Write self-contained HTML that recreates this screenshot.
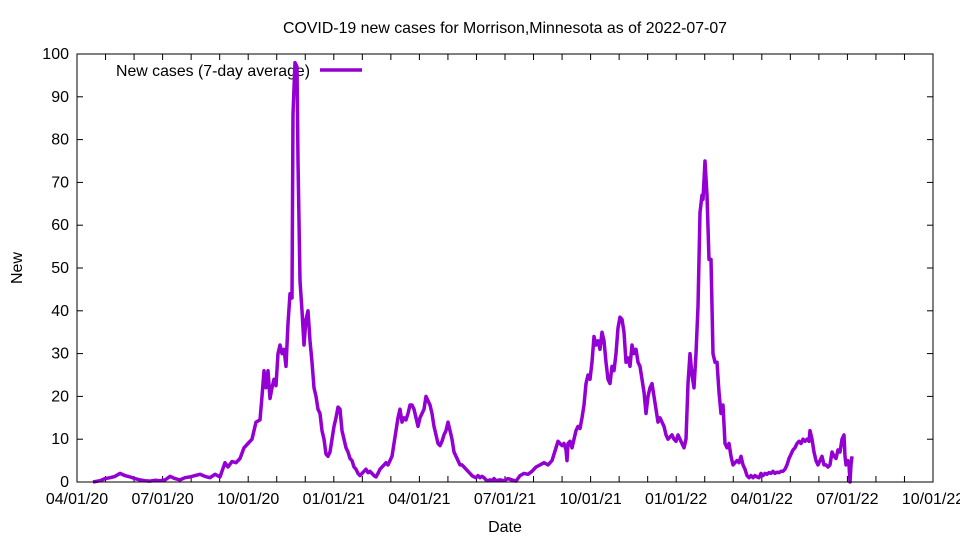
<!DOCTYPE html>
<html><head><meta charset="utf-8"><style>body{margin:0;background:#fff}svg{display:block;font-family:"Liberation Sans",sans-serif}</style></head>
<body><svg id="s" width="960" height="540" xmlns="http://www.w3.org/2000/svg">
<rect width="960" height="540" fill="#fff"/>
<text x="505" y="33" font-size="16" text-anchor="middle" textLength="444" lengthAdjust="spacingAndGlyphs">COVID-19 new cases for Morrison,Minnesota as of 2022-07-07</text>
<text x="505" y="532" font-size="16" text-anchor="middle">Date</text>
<text x="22" y="268" font-size="16" text-anchor="middle" transform="rotate(-90 22 268)">New</text>
<g id="ax" stroke="#000" stroke-width="1" fill="none"></g>
<g id="lb" font-size="16" fill="#000"></g>
<text x="116" y="76" font-size="16" textLength="194" lengthAdjust="spacingAndGlyphs">New cases (7-day average)</text>
<line x1="320" y1="70" x2="362" y2="70" stroke="#9400d3" stroke-width="3.5"/>
<polyline id="p" fill="none" stroke="#9400d3" stroke-width="3.5" stroke-linejoin="round"/>
<rect x="77" y="54" width="856" height="428" fill="none" stroke="#000"/>
</svg>
<script>
var L=77,R=933,T=54,B=482,ns="http://www.w3.org/2000/svg";
var ax=document.getElementById('ax'),lb=document.getElementById('lb');
function ln(a,b,c,d){var e=document.createElementNS(ns,'line');e.setAttribute('x1',a);e.setAttribute('y1',b);e.setAttribute('x2',c);e.setAttribute('y2',d);ax.appendChild(e);}
function tx(x,y,t,a){var e=document.createElementNS(ns,'text');e.setAttribute('x',x);e.setAttribute('y',y);e.setAttribute('text-anchor',a);e.textContent=t;lb.appendChild(e);}
for(var v=0;v<=100;v+=10){var y=B-v*4.28;ln(L,y,L+6,y);ln(R,y,R-6,y);tx(69,y+5,v,'end');}
var labs=['04/01/20','07/01/20','10/01/20','01/01/21','04/01/21','07/01/21','10/01/21','01/01/22','04/01/22','07/01/22','10/01/22'];
for(var m=0;m<=30;m++){var x=L+m*(R-L)/30;ln(x,B,x,B-6);ln(x,T,x,T+6);if(m%3==0)tx(x,504,labs[m/3],'middle');}
var d=[93,0,100,.3,105,.8,110,1,115,1.3,120,2,125,1.5,130,1.2,135,.8,140,.5,145,.3,150,.2,155,.4,160,.3,165,.5,170,1.3,175,.8,180,.5,185,1,190,1.2,195,1.5,200,1.8,205,1.3,210,1,215,1.8,220,1.2,225,4.5,228,3.5,232,4.8,236,4.5,240,5.5,244,8,248,9,252,10,256,14,260,14.5,262,20,264,26,266,22,268,26,270,19.5,272,22,274,24,276,22.5,278,30,280,32,282,30,284,31,286,27,288,37,290,44,292,43,293,86,295,98,297,97,298,75,300,47,302,40,304,32,306,38,308,40,310,33,312,28,314,22,316,20,318,17,320,16,322,12,324,10,326,6.5,328,6,330,7,332,10,334,13,336,15,338,17.5,340,17,342,12,344,10,346,8,348,7,350,5.5,352,5,354,3.5,356,3,358,2,360,1.5,362,2,364,2.5,366,3,368,2.2,370,2.5,372,2,374,1.5,376,1.2,378,2,380,3,382,3.5,384,4,386,4.5,388,4,390,5,392,6,394,9,396,12,398,15,400,17,402,14,404,15,406,14.5,408,16,410,18,412,18,414,17,416,15,418,13,420,15,422,16,424,17,426,20,428,19,430,18,432,16,434,13,436,11,438,9,440,8.5,442,9.5,444,11,446,12,448,14,450,12,452,10,454,7,456,6,458,5,460,4,462,4,464,3.5,466,3,468,2.5,470,2,472,1.5,474,1.2,476,1,478,1.5,480,1,482,1.3,484,1,486,.5,488,.3,490,.5,492,.3,494,.8,496,.3,500,.5,504,.3,508,.8,512,.5,516,.2,520,1.5,524,2,528,1.8,532,2.5,536,3.5,540,4,544,4.5,548,4,552,5,556,8,558,9.5,560,9,562,8.5,564,9,566,7.5,567,5,568,9,570,9.5,572,8,574,10,576,12,578,13,580,12.5,582,15,584,18,586,23,588,25,590,24,592,28,594,34,596,32,598,33,600,31,602,35,604,33,606,28,608,24,610,23,612,27,614,26,616,30,618,36,620,38.5,622,38,624,35,626,28,628,29,630,27,632,32,634,30,636,31,638,28,640,27,642,24,644,21,646,16,648,20,650,22,652,23,654,20,656,17,658,14,660,15,662,14,664,13,666,11,668,10,670,10.5,672,11,674,10,676,9.5,678,11,680,10,682,9,684,8,686,10,688,23,690,30,692,25,694,22,696,30,698,41,700,63,702,67,703,66,705,75,707,67,709,52,711,52,713,30,715,28,717,28,719,21,721,16,723,18,725,9,727,8,729,9,731,6,733,4,735,4.5,737,5,739,4.5,741,6,743,4,745,3,747,1.5,749,1,751,1.5,753,1,755,1.5,757,1.2,759,1,761,2,763,1.5,765,2,767,1.8,769,2.2,771,2,773,2.5,775,2,777,2.3,779,2.2,781,2.5,783,2.5,785,3,787,4,789,5.5,791,6.5,793,7.5,795,8,797,9,799,9.5,801,9,803,10,805,9.5,807,10,809,9.5,810,12,812,10,814,7,816,5,818,4,820,5,822,6,824,4,826,4,828,3.5,830,4,832,7,834,6,836,5.5,838,7.5,840,7,842,10,844,11,845,6,846,4,848,5,849,4,850,0,851,4,852,6];
var pts=[];for(var i=0;i<d.length;i+=2)pts.push(d[i]+','+(B-d[i+1]*4.28).toFixed(1));
document.getElementById('p').setAttribute('points',pts.join(' '));
</script>
</body></html>
